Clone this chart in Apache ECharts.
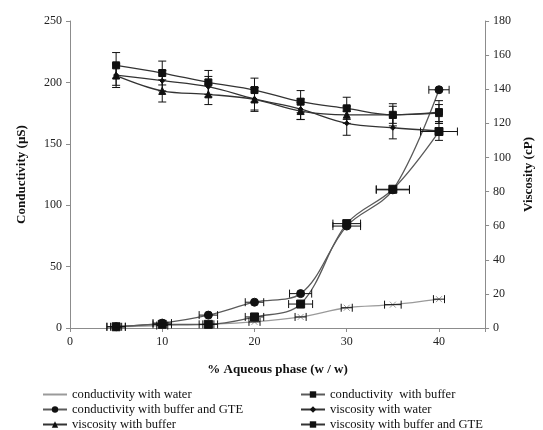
<!DOCTYPE html>
<html><head><meta charset="utf-8">
<script src="https://cdn.jsdelivr.net/npm/echarts@6/dist/echarts.min.js"></script>
<style>html,body{margin:0;padding:0;background:#fff}#c{width:543px;height:430px}</style>
</head><body><div id="c"></div>
<script>
const xVals = [5, 10, 15, 20, 25, 30, 35, 40];
const xTicks = [0, 10, 20, 30, 40];
const condWater = [1, 2, 3, 5, 9, 16.5, 19, 23.5];
const condWaterErr = [0.6, 0.6, 0.6, 0.6, 0.6, 0.6, 0.9, 0.6];
const condBuffer = [1, 3, 3, 9, 19.5, 85, 113, 160];
const condBufferErr = [1, 1, 1, 1, 1.3, 1.5, 1.8, 2];
const condGTE = [1, 4, 10.5, 21, 28, 83, 112.5, 194];
const condGTEErr = [1, 1, 1, 1, 1.2, 1.5, 1.8, 1.1];
const viscWater = [148.3, 145, 141.5, 134.3, 128.3, 120, 117.4, 115.5];
const viscWaterErr = [6, 6, 6, 6.5, 6, 7, 6.5, 5.5];
const viscBuffer = [148, 139, 137, 134, 127.2, 125, 125, 126];
const viscBufferErr = [7, 6.5, 6, 7, 5, 5, 5, 5];
const viscGTE = [154, 149.5, 144, 139.5, 132.7, 128.8, 125, 126.6];
const viscGTEErr = [7.5, 7, 7, 7, 6.5, 6.5, 6.5, 6.7];

const serif = '"Liberation Serif","DejaVu Serif",serif';
const xPath = 'path://M0,0L10,10M10,0L0,10';

function zip(a){ return xVals.map((x,i)=>[x,a[i]]); }
function zipE(a,e){ return xVals.map((x,i)=>[x,a[i],e[i]]); }

function hErr(params, api){
  const x=api.value(0), y=api.value(1), e=api.value(2);
  const a=api.coord([x-e,y]), b=api.coord([x+e,y]);
  const st={stroke:'#111',lineWidth:1};
  return {type:'group',children:[
    {type:'line',shape:{x1:a[0],y1:a[1],x2:b[0],y2:b[1]},style:st},
    {type:'line',shape:{x1:a[0],y1:a[1]-4,x2:a[0],y2:a[1]+4},style:st},
    {type:'line',shape:{x1:b[0],y1:b[1]-4,x2:b[0],y2:b[1]+4},style:st}
  ]};
}
function vErr(params, api){
  const x=api.value(0), y=api.value(1), e=api.value(2);
  const a=api.coord([x,y-e]), b=api.coord([x,y+e]);
  const st={stroke:'#111',lineWidth:1};
  return {type:'group',children:[
    {type:'line',shape:{x1:a[0],y1:a[1],x2:b[0],y2:b[1]},style:st},
    {type:'line',shape:{x1:a[0]-4,y1:a[1],x2:a[0]+4,y2:a[1]},style:st},
    {type:'line',shape:{x1:b[0]-4,y1:b[1],x2:b[0]+4,y2:b[1]},style:st}
  ]};
}

function lineS(name, data, y, color, symbol, size, mcolor){
  return {name, type:'line', data:zip(data), yAxisIndex:y, smooth:0.35,
    symbol, symbolSize:size, z:3,
    lineStyle:{color, width:1.3},
    itemStyle:{color:mcolor||'#111', borderColor:mcolor||'#111'}};
}
function errS(data, err, y, fn){
  return {type:'custom', data:zipE(data,err), yAxisIndex:y, renderItem:fn, z:4, silent:true,
    encode:{x:0,y:1}};
}

const chart = echarts.init(document.getElementById('c'), null, {renderer:'canvas'});
const axisLine = {show:true, lineStyle:{color:'#8c8c8c', width:1}};
const axisTick = {show:true, inside:false, length:4, lineStyle:{color:'#8c8c8c'}};
const axisLabel = {color:'#222', fontFamily:serif, fontSize:12};
const legendBase = {orient:'vertical', top:388, height:60, padding:0, itemGap:2, itemWidth:24, itemHeight:8,
  textStyle:{fontFamily:serif, fontSize:12.6, color:'#111'}};

chart.setOption({
  animation:false,
  grid:{left:70, right:52, top:21, bottom:102, containLabel:false},
  xAxis:{type:'value', min:0, max:45, interval:10, axisLine, axisTick,
    axisLabel:Object.assign({}, axisLabel, {margin:8, formatter:v=>xTicks.includes(v)?String(v):''}),
    splitLine:{show:false},
    name:'% Aqueous phase (w / w)', nameLocation:'middle', nameGap:35,
    nameTextStyle:{fontFamily:serif, fontWeight:'bold', fontSize:13, color:'#111'}},
  yAxis:[
    {type:'value', min:0, max:250, interval:50, axisLine, axisTick, axisLabel, splitLine:{show:false},
     name:'Conductivity (µS)', nameLocation:'middle', nameGap:42, nameRotate:90,
     nameTextStyle:{fontFamily:serif, fontWeight:'bold', fontSize:13, color:'#111'}},
    {type:'value', min:0, max:180, interval:20, position:'right', axisLine, axisTick, axisLabel, splitLine:{show:false},
     name:'Viscosity (cP)', nameLocation:'middle', nameGap:30, nameRotate:90,
     nameTextStyle:{fontFamily:serif, fontWeight:'bold', fontSize:13, color:'#111'}}
  ],
  legend:[
    Object.assign({}, legendBase, {left:42,
     data:['conductivity with water','conductivity with buffer and GTE','viscosity with buffer']}),
    Object.assign({}, legendBase, {left:300,
     data:['conductivity  with buffer','viscosity with water','viscosity with buffer and GTE']})
  ],
  series:[
    lineS('conductivity with water', condWater, 0, '#9a9a9a', xPath, 6, '#9a9a9a'),
    lineS('conductivity  with buffer', condBuffer, 0, '#5a5a5a', 'rect', 8),
    lineS('conductivity with buffer and GTE', condGTE, 0, '#5a5a5a', 'circle', 8),
    lineS('viscosity with water', viscWater, 1, '#333', 'diamond', 5),
    lineS('viscosity with buffer', viscBuffer, 1, '#333', 'triangle', 7),
    lineS('viscosity with buffer and GTE', viscGTE, 1, '#333', 'rect', 7),
    errS(condWater, condWaterErr, 0, hErr),
    errS(condBuffer, condBufferErr, 0, hErr),
    errS(condGTE, condGTEErr, 0, hErr),
    errS(viscWater, viscWaterErr, 1, vErr),
    errS(viscBuffer, viscBufferErr, 1, vErr),
    errS(viscGTE, viscGTEErr, 1, vErr)
  ]
});
</script></body></html>
